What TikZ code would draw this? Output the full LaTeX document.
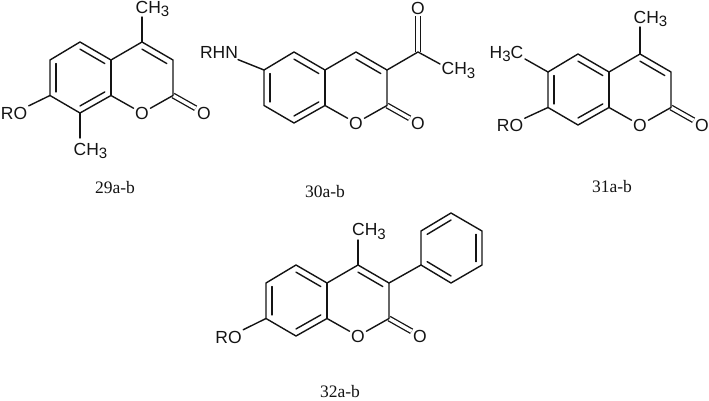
\documentclass[tikz,border=0pt]{standalone}
\usepackage{fontspec}
\setmainfont{Liberation Serif}
\setsansfont{Liberation Sans}
\usetikzlibrary{calc}
\definecolor{ink}{HTML}{141414}
\tikzset{
  bond/.style={draw=ink,line width=1.4pt,line join=round,line cap=round},
  dbond/.style={draw=ink,line width=1.3pt,double=white,double distance=3.4pt,line cap=butt},
  atom/.style={inner sep=1.4pt,text=ink,font=\sffamily\fontsize{17.5}{19}\selectfont},
  caption/.style={inner sep=0pt,text=ink,font=\rmfamily\fontsize{17.5}{19}\selectfont}
}
\newcommand{\lowthree}{\raisebox{-3.5pt}{\fontsize{15}{15}\selectfont 3}}
% #1 name prefix, #2 position of the ring-fusion carbon C4a
\newcommand{\coumarinring}[2]{%
  \begin{scope}[shift={#2}]
    \coordinate (#1c4a) at (0,0);
    \coordinate (#1c5) at (-31,-18);
    \coordinate (#1c6) at (-61,0);
    \coordinate (#1c7) at (-61,35.5);
    \coordinate (#1c8) at (-31,53);
    \coordinate (#1c8a) at (0,35.5);
    \coordinate (#1c4) at (31,-18);
    \coordinate (#1c3) at (62,0);
    \coordinate (#1c2) at (62,35.5);
    \coordinate (#1ca) at (-31,17.75);
    \coordinate (#1cb) at (31,17.75);
    \node[atom] (#1o1) at (31,53) {O};
    \node[atom] (#1oc) at (93,53) {O};
  \end{scope}
  \draw[dbond] (#1c2) -- (#1oc);
  \draw[bond] (#1o1) -- (#1c2) -- (#1c3) -- (#1c4) -- (#1c4a) -- (#1c5) -- (#1c6) -- (#1c7) -- (#1c8) -- (#1c8a) -- (#1o1);
  \draw[bond] (#1c4a) -- (#1c8a);
  \draw[bond] ($(#1c5)!.2!(#1ca)$) -- ($(#1c4a)!.2!(#1ca)$);
  \draw[bond] ($(#1c6)!.2!(#1ca)$) -- ($(#1c7)!.2!(#1ca)$);
  \draw[bond] ($(#1c8)!.2!(#1ca)$) -- ($(#1c8a)!.2!(#1ca)$);
  \draw[bond] ($(#1c3)!.2!(#1cb)$) -- ($(#1c4)!.2!(#1cb)$);
}
\begin{document}
\begin{tikzpicture}[x=1pt,y=-1pt]
\useasboundingbox[fill=white] (0,0) rectangle (709,401);

% 29a-b
\coumarinring{a}{(111,60)}
\node[atom] (aro) at (14,113) {RO};
\draw[bond] (ac7) -- (aro);
\coordinate (ame4) at (142,17);
\coordinate (ame8) at (80,138);
\draw[bond] (ac4) -- (ame4);
\draw[bond] (ac8) -- (ame8);
\node[atom] (ach4) at (152.5,9) {CH\lowthree};
\node[atom] (ach8) at (90.5,151) {CH\lowthree};
\node[caption] (alabel) at (115,188) {29a-b};

% 30a-b
\coumarinring{b}{(325,70)}
\node[atom] (brhn) at (219,52) {RHN};
\draw[bond] (bc6) -- (brhn);
\coordinate (bac) at (418,52);
\node[atom] (bao) at (418,8) {O};
\draw[dbond] (bac) -- (bao);
\coordinate (bme) at (440,64);
\draw[bond] (bc3) -- (bac) -- (bme);
\node[atom] (bch) at (458.5,70.5) {CH\lowthree};
\node[caption] (blabel) at (325,192) {30a-b};

% 31a-b
\coumarinring{c}{(609,72)}
\node[atom] (cro) at (510,125) {RO};
\draw[bond] (cc7) -- (cro);
\coordinate (cme6) at (525,59);
\draw[bond] (cc6) -- (cme6);
\node[atom] (cch6) at (506.5,54) {H\lowthree C};
\coordinate (cme4) at (640,27);
\draw[bond] (cc4) -- (cme4);
\node[atom] (cch4) at (650.5,19) {CH\lowthree};
\node[caption] (clabel) at (612,187) {31a-b};

% 32a-b
\coumarinring{d}{(327,283)}
\node[atom] (dro) at (228.5,337) {RO};
\draw[bond] (dc7) -- (dro);
\coordinate (dme) at (358,240);
\draw[bond] (dc4) -- (dme);
\node[atom] (dch) at (369,231.5) {CH\lowthree};
\coordinate (p1) at (421,265);
\coordinate (p2) at (421,231);
\coordinate (p3) at (451,213);
\coordinate (p4) at (482,231);
\coordinate (p5) at (482,265);
\coordinate (p6) at (451,283);
\coordinate (pc) at (451.5,248);
\draw[bond] (dc3) -- (p1);
\draw[bond] (p1) -- (p2) -- (p3) -- (p4) -- (p5) -- (p6) -- cycle;
\draw[bond] ($(p2)!.2!(pc)$) -- ($(p3)!.2!(pc)$);
\draw[bond] ($(p4)!.2!(pc)$) -- ($(p5)!.2!(pc)$);
\draw[bond] ($(p6)!.2!(pc)$) -- ($(p1)!.2!(pc)$);
\node[caption] (dlabel) at (340,392) {32a-b};
\end{tikzpicture}
\end{document}
